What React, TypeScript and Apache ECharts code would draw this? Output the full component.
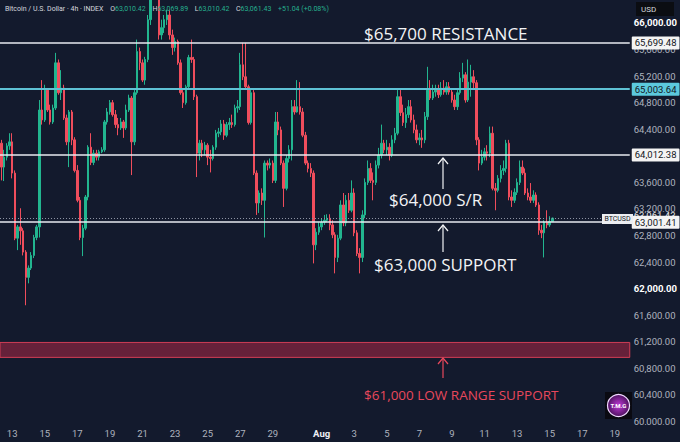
import React, { useEffect, useRef } from "react";
import * as echarts from "echarts";

// 4h candles: [open, close, low, high], first candle Jul 12 08:00
const candles: number[][] = [
  [64190, 63830, 63630, 64240], [63830, 63980, 63620, 64090], [63980, 64150, 63930, 64190], [64150, 64210, 64090, 64340],
  [64210, 63740, 63660, 64340], [63740, 62760, 62730, 63780], [62760, 62930, 62580, 62960], [62930, 62870, 62660, 63210],
  [62870, 62550, 62500, 62910], [62550, 62170, 61750, 62580], [62170, 62310, 62080, 62350], [62310, 62500, 62280, 62550],
  [62500, 62770, 62460, 62810], [62770, 62930, 62730, 62960], [62930, 64690, 62770, 64840], [64690, 64540, 64470, 65140],
  [64540, 64990, 64510, 65070], [64990, 64690, 64660, 65020], [64690, 64510, 64470, 64770], [64510, 64720, 64480, 64770],
  [64720, 65400, 64690, 65550], [65400, 64950, 64920, 65450], [64950, 65020, 64840, 65290], [65020, 64570, 64540, 65070],
  [64570, 64210, 64160, 64620], [64210, 64660, 63830, 64690], [64660, 64240, 64160, 64690], [64240, 63780, 63750, 64280],
  [63780, 63330, 63300, 63860], [63330, 62770, 62730, 63380], [62770, 62910, 62490, 62960], [62910, 63380, 62880, 63410],
  [63380, 64130, 63330, 64160], [64130, 63900, 63860, 64340], [63900, 64040, 63860, 64090], [64040, 63980, 63930, 64090],
  [63980, 64060, 63930, 64090], [64060, 64090, 64040, 64130], [64090, 64510, 64060, 64540], [64510, 64660, 64470, 64720],
  [64660, 64800, 64620, 64840], [64800, 64620, 64590, 64840], [64620, 64470, 64420, 64690], [64470, 64420, 64310, 64570],
  [64420, 64510, 64390, 64570], [64510, 64420, 64270, 64540], [64420, 64690, 64390, 64770], [64690, 64870, 64660, 64920],
  [64870, 64210, 63710, 64900], [64210, 64950, 64160, 64990], [64950, 65570, 64920, 65750], [65570, 65400, 65290, 65630],
  [65400, 65140, 65110, 65450], [65140, 65450, 65070, 65490], [65450, 66050, 65410, 66120], [66050, 66420, 65970, 66580],
  [66420, 66650, 66350, 66800], [66650, 66500, 66420, 66880], [66500, 65820, 65750, 66580], [65820, 65930, 65750, 66050],
  [65930, 66050, 65850, 66120], [66050, 66120, 65970, 66200], [66120, 65820, 65750, 66200], [65820, 65630, 65520, 65900],
  [65630, 65720, 65570, 65780], [65720, 65400, 65370, 65750], [65400, 64950, 64920, 65450], [64950, 64800, 64720, 64990],
  [64800, 65040, 64770, 65070], [65040, 65480, 64990, 65520], [65480, 65450, 65400, 65750], [65450, 64890, 64840, 65490],
  [64890, 64040, 63680, 64920], [64040, 64190, 63930, 64240], [64190, 64090, 63980, 64240], [64090, 64160, 64010, 64210],
  [64160, 63980, 63860, 64190], [63980, 63960, 63750, 64090], [63960, 64130, 63930, 64160], [64130, 64340, 64090, 64390],
  [64340, 64360, 64280, 64420], [64360, 64480, 64310, 64540], [64480, 64310, 64240, 64540], [64310, 64470, 64280, 64510],
  [64470, 64500, 64390, 64570], [64500, 64470, 64420, 64620], [64470, 64720, 64440, 64770], [64720, 64740, 64650, 64840],
  [64740, 65370, 64690, 65550], [65370, 65190, 65140, 65700], [65190, 65040, 64990, 65700], [65040, 64500, 64470, 65070],
  [64500, 64950, 64470, 64990], [64950, 63740, 63710, 64990], [63740, 63290, 63110, 63780], [63290, 63440, 63140, 63480],
  [63440, 63330, 63260, 63510], [63330, 63890, 62770, 63930], [63890, 63860, 63780, 63930], [63860, 63890, 63810, 63960],
  [63890, 63630, 63590, 63930], [63630, 64510, 63590, 64660], [64510, 64390, 64310, 64660], [64390, 63890, 63860, 64440],
  [63890, 63510, 63230, 63930], [63510, 63960, 63480, 64010], [63960, 64090, 63900, 64160], [64090, 64740, 63930, 64840],
  [64740, 64660, 64620, 64840], [64660, 64740, 64650, 65140], [64740, 64660, 64620, 65110], [64660, 64310, 64280, 64720],
  [64310, 63890, 63860, 64360], [63890, 63810, 63750, 63930], [63810, 63740, 63680, 63890], [63740, 62660, 62380, 63780],
  [62660, 62850, 62580, 62910], [62850, 62930, 62810, 63000], [62930, 63000, 62880, 63060], [63000, 63030, 62960, 63110],
  [63030, 63060, 63000, 63120], [63060, 62960, 62880, 63120], [62960, 62810, 62760, 63030], [62810, 62470, 62230, 62850],
  [62470, 62760, 62400, 62810], [62760, 63260, 62730, 63330], [63260, 62990, 62940, 63440], [62990, 63330, 62940, 63410],
  [63330, 63180, 63140, 63440], [63180, 63440, 63150, 63630], [63440, 62840, 62790, 63510], [62840, 62530, 62490, 62880],
  [62530, 62470, 62230, 62610], [62470, 63110, 62400, 63180], [63110, 63600, 63060, 63660], [63600, 63810, 63560, 63930],
  [63810, 63630, 63590, 63890], [63630, 63600, 63330, 63750], [63600, 63860, 63560, 63930], [63860, 64010, 63810, 64120],
  [64010, 64190, 63960, 64470], [64190, 64090, 64040, 64240], [64090, 64130, 64010, 64240], [64130, 64010, 63930, 64190],
  [64010, 64240, 63980, 64310], [64240, 64340, 64190, 64420], [64340, 64890, 64310, 64990], [64890, 64650, 64600, 64990],
  [64650, 64500, 64450, 64770], [64500, 64620, 64420, 64720], [64620, 64740, 64570, 64840], [64740, 64540, 64500, 64840],
  [64540, 64390, 64340, 64620], [64390, 64240, 64190, 64470], [64240, 64270, 64160, 64340], [64270, 64240, 64120, 64390],
  [64240, 64590, 64190, 64660], [64590, 64990, 64540, 65340], [64990, 64870, 64840, 65140], [64870, 64960, 64840, 65070],
  [64960, 64990, 64890, 65070], [64990, 64920, 64870, 65070], [64920, 65020, 64890, 65110], [65020, 64960, 64920, 65140],
  [64960, 65040, 64920, 65110], [65040, 64960, 64920, 65110], [64960, 64840, 64800, 65020], [64840, 64740, 64690, 64920],
  [64740, 64950, 64690, 64990], [64950, 65170, 64920, 65260], [65170, 65220, 65110, 65400], [65220, 64840, 64800, 65260],
  [64840, 65110, 64810, 65450], [65110, 65190, 64890, 65370], [65190, 65100, 65020, 65290], [65100, 64240, 64160, 65140],
  [64240, 63890, 63780, 64280], [63890, 63980, 63860, 64090], [63980, 64060, 63930, 64120], [64060, 64040, 63930, 64160],
  [64040, 64340, 63980, 64440], [64340, 63510, 63480, 64440], [63510, 63480, 63180, 63590], [63480, 63660, 63450, 63710],
  [63660, 63780, 63600, 63860], [63780, 63810, 63710, 63930], [63810, 64190, 63750, 64240], [64190, 63380, 63330, 64240],
  [63380, 63330, 63230, 63480], [63330, 63450, 63290, 63510], [63450, 63600, 63410, 63660], [63600, 63830, 63560, 63930],
  [63830, 63740, 63710, 63930], [63740, 63440, 63410, 63810], [63440, 63380, 63330, 63510], [63380, 63330, 63290, 63590],
  [63330, 63410, 63290, 63480], [63410, 63260, 63230, 63450], [63260, 62880, 62810, 63300], [62880, 62840, 62760, 62960],
  [62840, 63000, 62470, 63030], [63000, 62960, 62910, 63180], [62960, 63010, 62930, 63090], [63010.42, 63061.43, 63010.42, 63069.89],
];

const tickDays = ["07-13", "07-15", "07-17", "07-19", "07-21", "07-23", "07-25", "07-27", "07-29", "08-01", "08-03", "08-05", "08-07", "08-09", "08-11", "08-13", "08-15", "08-17", "08-19"];
const tickLabels = ["13", "15", "17", "19", "21", "23", "25", "27", "29", "Aug", "3", "5", "7", "9", "11", "13", "15", "17", "19"];
const priceTicks = [60000, 60400, 60800, 61200, 61600, 62000, 62400, 62800, 63200, 63600, 64000, 64400, 64800, 65200, 65600, 66000];
const boldTicks = [62000, 66000];
const whiteLevels = [65699.48, 64012.38, 63001.41];
const cyanLevels = [65003.64];
const lastPrice = [63061.43];
const lowRangeZone = [60965, 61190];

// time slots of the x axis (4h), Jul 12 08:00 .. Aug 19 20:00
const categories: string[] = [];
[["07", 12, 31], ["08", 1, 19]].forEach(([m, a, b]) => {
  for (let d = a as number; d <= (b as number); d++) {
    for (let h = 0; h < 24; h += 4) {
      if (m === "07" && d === 12 && h < 8) continue;
      categories.push(`${m}-${String(d).padStart(2, "0")} ${String(h).padStart(2, "0")}:00`);
    }
  }
});

const BG = "#131a2d";
const UP = "#22b58f";
const DOWN = "#ef4d5c";
const fmt = (v: number) => v.toLocaleString("en-US", { minimumFractionDigits: 2, maximumFractionDigits: 2 });

export default function App() {
  const ref = useRef<HTMLDivElement>(null);
  useEffect(() => {
    if (!ref.current) return;
    const chart = echarts.init(ref.current, null, { renderer: "svg" });
    const boxLabel = (bg: string) => ({
      show: true,
      position: "end",
      distance: 2,
      formatter: (p: any) => fmt(p.value),
      backgroundColor: bg,
      color: "#131722",
      fontSize: 9.5,
      fontFamily: "Roboto",
      padding: [2, 3, 1, 3],
      borderRadius: 1,
    });
    const markData: any[] = [
      ...lastPrice.map((v) => ({
        yAxis: v,
        lineStyle: { color: "#8d93a3", type: [1, 2], width: 1 },
        label: { show: true, position: "end", distance: 4, offset: [0, -3], formatter: (p: any) => fmt(p.value), color: "#e6e6e6", fontSize: 9.5, fontFamily: "Roboto" },
      })),
      ...whiteLevels.map((v) => ({ yAxis: v, lineStyle: { color: "#e9ebf0", width: 1.6, type: "solid" }, label: boxLabel("#f4f4f4") })),
      ...cyanLevels.map((v) => ({ yAxis: v, lineStyle: { color: "#5fc2d4", width: 2, type: "solid" }, label: boxLabel("#5cc9dd") })),
    ];
    const arrow = (x: number, y1: number, y2: number, color: string) => [
      { type: "line", z: 50, shape: { x1: x, y1: y2, x2: x, y2: y1 }, style: { stroke: color, lineWidth: 1.2 } },
      { type: "polyline", z: 50, shape: { points: [[x - 5, y1 + 6], [x, y1], [x + 5, y1 + 6]] }, style: { stroke: color, lineWidth: 1.2, fill: "none" } },
    ];
    const annot = (text: string, x: number, y: number, color: string, size: number) => ({
      type: "text", z: 50, x, y,
      style: { text, fill: color, fontSize: size, fontFamily: "Open Sans", textVerticalAlign: "middle", textAlign: "left" },
    });
    chart.setOption({
      animation: false,
      backgroundColor: BG,
      grid: { left: 0, right: 48, top: 0, bottom: 18 },
      xAxis: {
        type: "category",
        data: categories,
        boundaryGap: true,
        axisLine: { show: false },
        axisTick: { show: false },
        splitLine: { show: false },
        axisLabel: {
          interval: (_i: number, v: string) => tickDays.includes(v.slice(0, 5)) && v.endsWith("00:00"),
          formatter: (v: string) => {
            const l = tickLabels[tickDays.indexOf(v.slice(0, 5))];
            return l === "Aug" ? `{b|${l}}` : l;
          },
          color: "#aeb3bf",
          fontSize: 9.5,
          fontFamily: "Roboto",
          margin: 4,
          rich: { b: { color: "#eef0f4", fontWeight: "bold", fontSize: 9.5, fontFamily: "Roboto" } },
        },
      },
      yAxis: {
        type: "value",
        position: "right",
        min: 59962,
        max: 66346,
        axisLine: { show: false },
        axisTick: { show: false },
        splitLine: { show: false },
        axisLabel: {
          customValues: priceTicks,
          margin: 4,
          color: "#aeb3bf",
          fontSize: 9.5,
          fontFamily: "Roboto",
          formatter: (v: number) => (boldTicks.includes(v) ? `{b|${fmt(v)}}` : fmt(v)),
          rich: { b: { color: "#ffffff", fontWeight: "bold", fontSize: 9.5, fontFamily: "Roboto" } },
        },
      },
      series: [
        {
          type: "candlestick",
          data: candles,
          barWidth: 2,
          clip: true,
          itemStyle: { color: UP, color0: DOWN, borderColor: UP, borderColor0: DOWN, borderWidth: 1 },
          markArea: {
            silent: true,
            itemStyle: { color: "#66213a", borderColor: "#d03d55", borderWidth: 1 },
            data: [[{ yAxis: lowRangeZone[1] }, { yAxis: lowRangeZone[0] }]],
          },
          markLine: { symbol: "none", silent: true, data: markData },
        },
      ],
      graphic: [
        {
          type: "text", z: 60, x: 5, y: 9,
          style: {
            text: "{t|Bitcoin / U.S. Dollar · 4h · INDEX}  {l|O}{v|63,010.42}  {l|H}{v|63,069.89}  {l|L}{v|63,010.42}  {l|C}{v|63,061.43}  {v|+51.04 (+0.08%)}",
            textVerticalAlign: "middle",
            rich: {
              t: { fill: "#d5d8df", fontSize: 7, fontFamily: "Roboto" },
              l: { fill: "#d5d8df", fontSize: 7, fontFamily: "Roboto" },
              v: { fill: "#26b08f", fontSize: 7, fontFamily: "Roboto" },
            },
          },
        },
        annot("$65,700 RESISTANCE", 364, 33, "#f2f3f5", 17),
        annot("$64,000 S/R", 389, 199, "#f2f3f5", 17),
        annot("$63,000 SUPPORT", 374, 264, "#f2f3f5", 17),
        annot("$61,000 LOW RANGE SUPPORT", 364, 395, "#e8485c", 13.5),
        ...arrow(443, 158, 189, "#f2f3f5"),
        ...arrow(443, 225, 252, "#f2f3f5"),
        ...arrow(443, 358, 378, "#e8485c"),
        { type: "rect", z: 40, shape: { x: 602, y: 214, width: 31, height: 10 }, style: { fill: "#eceef2" } },
        { type: "text", z: 41, x: 617.5, y: 219, style: { text: "BTCUSD", fill: "#131722", fontSize: 7, fontFamily: "Roboto", textAlign: "center", textVerticalAlign: "middle" } },
        { type: "rect", z: 40, shape: { x: 633, y: 425, width: 47, height: 17 }, style: { fill: BG } },
        { type: "rect", z: 40, shape: { x: 636, y: 2, width: 38, height: 14 }, style: { fill: "#0b0d12" } },
        { type: "text", z: 41, x: 641, y: 9, style: { text: "USD", fill: "#d5d8df", fontSize: 8, fontFamily: "Roboto", textVerticalAlign: "middle" } },
        { type: "rect", z: 40, shape: { x: 605, y: 392, width: 27, height: 27 }, style: { fill: "#0a0a12" } },
        {
          type: "circle", z: 41, shape: { cx: 618.5, cy: 405.5, r: 11 },
          style: {
            fill: new echarts.graphic.RadialGradient(0.5, 0.5, 0.6, [
              { offset: 0, color: "#c03ad8" },
              { offset: 1, color: "#3a0a4a" },
            ]),
            stroke: "#f0d8ff",
            lineWidth: 1.2,
          },
        },
        { type: "text", z: 42, x: 618.5, y: 405, style: { text: "T.M.G", fill: "#ffffff", fontSize: 6, fontWeight: "bold", fontFamily: "Roboto", textAlign: "center", textVerticalAlign: "middle" } },
      ],
    });
    return () => chart.dispose();
  }, []);
  return <div ref={ref} style={{ position: "fixed", left: 0, top: 0, width: 680, height: 442 }} />;
}
